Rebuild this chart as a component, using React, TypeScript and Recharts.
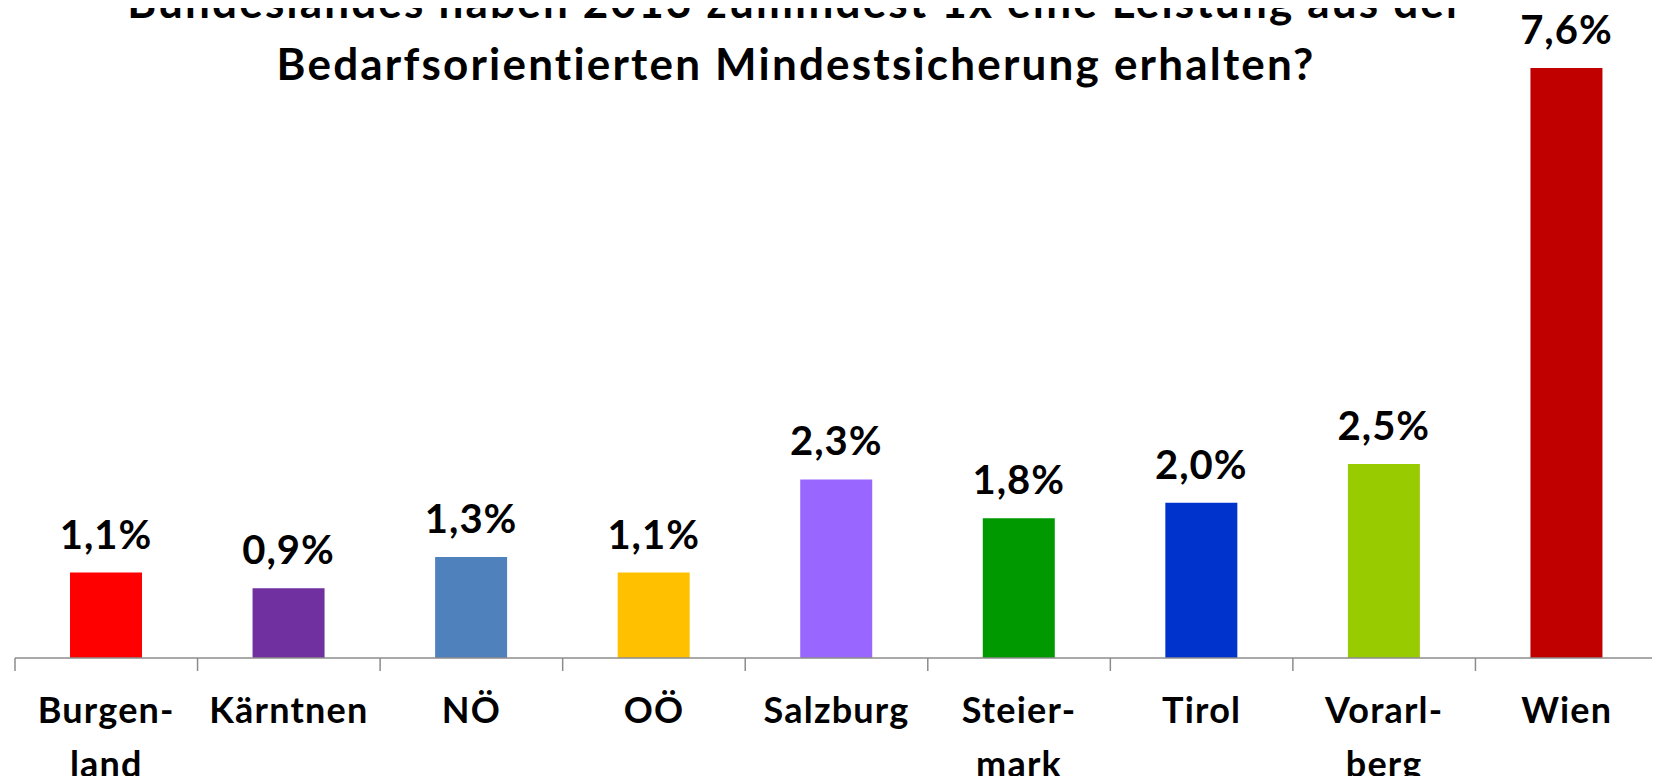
import { BarChart, Bar, XAxis, YAxis, Cell, LabelList } from "recharts";

const categories = [
  "Burgen-\nland",
  "Kärntnen",
  "NÖ",
  "OÖ",
  "Salzburg",
  "Steier-\nmark",
  "Tirol",
  "Vorarl-\nberg",
  "Wien",
];
const values = [1.1, 0.9, 1.3, 1.1, 2.3, 1.8, 2.0, 2.5, 7.6];
const barColors = [
  "#FF0000",
  "#7030A0",
  "#4F81BD",
  "#FFC000",
  "#9966FF",
  "#009900",
  "#0033CC",
  "#99CC00",
  "#C00000",
];
const titleLines = [
  "Bundeslandes haben 2013 zumindest 1x eine Leistung aus der",
  "Bedarfsorientierten Mindestsicherung erhalten?",
];

const FONT = "Lato, 'Open Sans', sans-serif";
const AXIS_GREY = "#8c8c8c";

const data = categories.map((name, i) => ({
  name,
  value: values[i],
  color: barColors[i],
}));

const pct = (v: number) => `${v.toFixed(1).replace(".", ",")}%`;

// label under the axis + tick marks on the category boundaries (Excel style)
function CategoryTick({ x, y, payload, index }: any) {
  const lines = String(payload.value).split("\n");
  const half = payload.offset || (1660 - 17) / categories.length / 2;
  const isLast = index === categories.length - 1;
  return (
    <g>
      <line x1={x - half} x2={x - half} y1={y} y2={y + 13} stroke={AXIS_GREY} strokeWidth={1.5} />
      {isLast && (
        <line x1={x + half} x2={x + half} y1={y} y2={y + 13} stroke={AXIS_GREY} strokeWidth={1.5} />
      )}
      {lines.map((line, i) => (
        <text
          key={i}
          x={x}
          y={y + 65 + i * 54}
          textAnchor="middle"
          fontFamily={FONT}
          fontWeight={700}
          fontSize={36}
          letterSpacing={1.2}
          fill="#000"
        >
          {line}
        </text>
      ))}
    </g>
  );
}

export default function App() {
  return (
    <div
      style={{
        position: "relative",
        margin: -8,
        width: 1660,
        height: 784,
        background: "#fff",
        overflow: "hidden",
        fontFamily: FONT,
      }}
    >
      <BarChart
        width={1660}
        height={784}
        data={data}
        margin={{ top: 37, right: 2, bottom: 0, left: 15 }}
      >
        <XAxis
          dataKey="name"
          interval={0}
          axisLine={{ stroke: AXIS_GREY, strokeWidth: 1.5 }}
          tickLine={false}
          tickSize={0}
          tickMargin={0}
          height={126}
          tick={<CategoryTick />}
        />
        <YAxis hide domain={[0, 8]} />
        <Bar dataKey="value" barSize={72} isAnimationActive={false}>
          {data.map((d) => (
            <Cell key={d.name} fill={d.color} />
          ))}
          <LabelList
            dataKey="value"
            position="top"
            offset={24}
            formatter={(v: any) => pct(Number(v))}
            style={{
              fontFamily: FONT,
              fontWeight: 700,
              fontSize: 40,
              letterSpacing: 1,
              fill: "#000",
            }}
          />
        </Bar>
      </BarChart>
      <svg
        width={1660}
        height={784}
        style={{ position: "absolute", left: 0, top: 0, pointerEvents: "none" }}
      >
        {titleLines.map((t, i) => (
          <text
            key={i}
            x={796}
            y={18 + i * 62}
            textAnchor="middle"
            fontFamily={FONT}
            fontWeight={700}
            fontSize={44}
            letterSpacing={2.2}
            fill="#000"
          >
            {t}
          </text>
        ))}
      </svg>
    </div>
  );
}
